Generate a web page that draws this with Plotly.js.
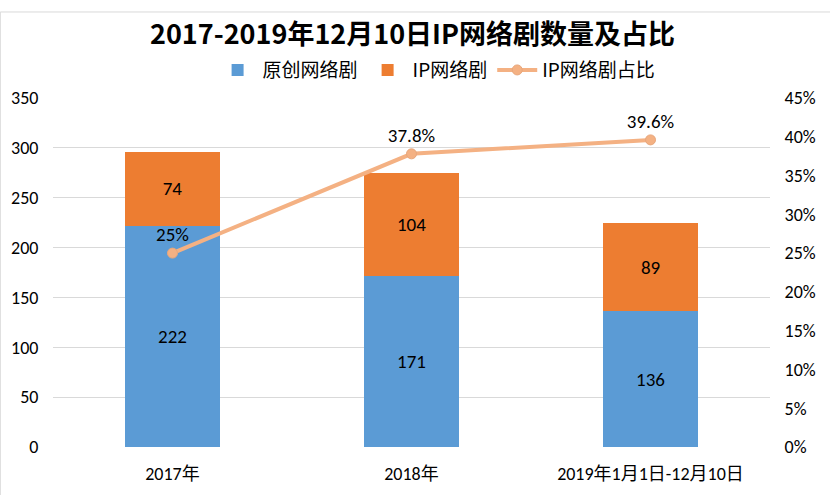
<!DOCTYPE html>
<html><head><meta charset="utf-8">
<script src="https://cdn.plot.ly/plotly-3.0.1.min.js"></script>
<style>html,body{margin:0;padding:0;background:#fff}#chart{width:830px;height:495px}</style>
</head><body><div id="chart"></div>
<script>
const categories = ['2017年', '2018年', '2019年1月1日-12月10日'];
const originalCounts = [222, 171, 136];
const ipCounts = [74, 104, 89];
const ipShare = [0.25, 0.378, 0.396];
const ipShareLabels = ['25%', '37.8%', '39.6%'];

const FONT = 'Carlito, Calibri, "Open Sans", "Noto Sans CJK SC", sans-serif';
const CJK = '"Noto Sans CJK SC", sans-serif';

const traces = [
  {type:'bar', name:'原创网络剧', x:categories, y:originalCounts, marker:{color:'#5B9BD5'},
   text:originalCounts.map(String), textposition:'inside', insidetextanchor:'middle',
   textfont:{size:19, color:'#000', family:FONT}, hoverinfo:'skip'},
  {type:'bar', name:'IP网络剧', x:categories, y:ipCounts, marker:{color:'#ED7D31'},
   text:ipCounts.map(String), textposition:'inside', insidetextanchor:'middle',
   textfont:{size:19, color:'#000', family:FONT}, hoverinfo:'skip'},
  {type:'scatter', mode:'lines+markers+text', name:'IP网络剧占比', x:categories, y:ipShare, yaxis:'y2',
   line:{color:'#F4B183', width:4}, marker:{size:10, color:'#F4B183', line:{color:'#E8A77C', width:1}},
   text:ipShareLabels, textposition:'top center', textfont:{size:19, color:'#000', family:FONT}, hoverinfo:'skip'}
];

const layout = {
  width:830, height:495,
  margin:{l:53, r:60, t:98, b:48},
  paper_bgcolor:'#fff', plot_bgcolor:'#fff',
  font:{family:FONT, color:'#000', size:18},
  title:{text:'<b>2017-2019年12月10日IP网络剧数量及占比</b>', x:0.497, xanchor:'center',
         yref:'container', y:0.93, yanchor:'middle',
         font:{size:27, family:CJK, color:'#000'}},
  barmode:'stack', bargap:0.6,
  showlegend:true,
  legend:{orientation:'h', x:0.535, xanchor:'center', y:1.08, yanchor:'middle',
          font:{size:19, family:CJK}, traceorder:'normal', itemwidth:40},
  xaxis:{type:'category', showgrid:false, showline:false, ticks:'outside', ticklen:10, tickcolor:'rgba(0,0,0,0)',
         tickfont:{size:18, family:FONT}, fixedrange:true},
  yaxis:{range:[0,350], dtick:50, showgrid:true, gridcolor:'#D9D9D9', gridwidth:1, zeroline:false,
         showline:false, ticks:'outside', ticklen:10, tickcolor:'rgba(0,0,0,0)', tickfont:{size:18, family:FONT}},
  yaxis2:{range:[0,0.45], dtick:0.05, tickformat:'.0%', overlaying:'y', side:'right', showgrid:false,
          zeroline:false, showline:false, ticks:'outside', ticklen:10, tickcolor:'rgba(0,0,0,0)', tickfont:{size:18, family:FONT}},
  shapes:[{type:'rect', xref:'paper', yref:'paper', x0:-0.0735, x1:1.2, y0:-0.3, y1:1.2465, line:{color:'#D9D9D9', width:1}}]
};

Plotly.newPlot('chart', traces, layout, {displayModeBar:false, staticPlot:true});
</script></body></html>
